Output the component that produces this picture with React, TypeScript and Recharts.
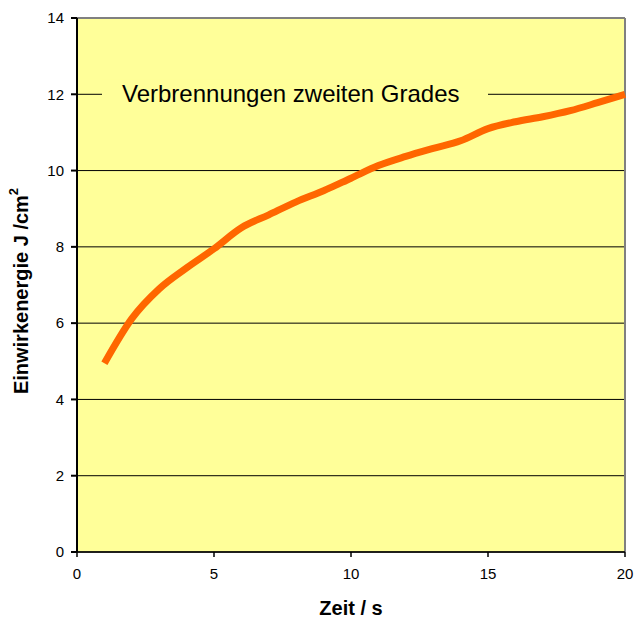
import React from 'react'
import {
  LineChart,
  Line,
  XAxis,
  YAxis,
  CartesianGrid,
  ReferenceLine,
  Label,
} from 'recharts'

const zeit = [1, 2, 3, 4, 5, 6, 7, 8, 9, 10, 11, 12, 13, 14, 15, 16, 17, 18, 19, 20]
const energie = [
  4.95, 6.12, 6.9, 7.45, 7.95, 8.5, 8.84, 9.18, 9.47, 9.8, 10.13, 10.37, 10.58, 10.78, 11.1,
  11.28, 11.41, 11.57, 11.78, 12.0,
]
const yTicks = [0, 2, 4, 6, 8, 10, 12, 14]
const xTicks = [0, 5, 10, 15, 20]
const kurveLabel = 'Verbrennungen zweiten Grades'

const data = zeit.map((t, i) => ({ t, e: energie[i] }))

const FONT = '"Liberation Sans", Arial, sans-serif'

// Beschriftung über der 12er Linie, mit gelbem Hintergrund
const GradLabel = (props: any) => {
  const { viewBox } = props
  const x0 = viewBox.x + 25
  const y0 = viewBox.y
  return (
    <g>
      <rect x={x0} y={y0 - 15} width={386} height={30} fill="#FFFF99" />
      <text
        x={viewBox.x + 45}
        y={y0 + 8}
        fontSize={24}
        fontFamily={FONT}
        fill="#000"
      >
        {kurveLabel}
      </text>
    </g>
  )
}

// y-Achsentitel mit hochgestellter 2
const YTitle = (props: any) => {
  const { viewBox } = props
  const cx = 21
  const cy = viewBox.y + viewBox.height / 2 + 6
  return (
    <text
      x={cx}
      y={cy}
      transform={`rotate(-90, ${cx}, ${cy})`}
      textAnchor="middle"
      dominantBaseline="central"
      fontSize={20}
      fontWeight="bold"
      fontFamily={FONT}
      fill="#000"
    >
      Einwirkenergie J /cm
      <tspan fontSize={13} dy={-8}>
        2
      </tspan>
    </text>
  )
}

const App = () => {
  return (
    <div style={{ position: 'absolute', left: 0, top: 0 }}>
      <LineChart
        width={637}
        height={619}
        data={data}
        margin={{ top: 18, right: 12, left: 17, bottom: 22 }}
      >
        <CartesianGrid
          vertical={false}
          stroke="#000"
          strokeOpacity={1}
          fill="#FFFF99"
          fillOpacity={1}
        />
        <ReferenceLine y={14} stroke="#808080" strokeWidth={2} />
        <ReferenceLine x={20} stroke="#808080" strokeWidth={2} />
        <ReferenceLine y={12} stroke="none" label={<GradLabel />} />
        <XAxis
          dataKey="t"
          type="number"
          domain={[0, 20]}
          ticks={xTicks}
          stroke="#000"
          strokeWidth={1.5}
          tickSize={5}
          tickMargin={11}
          height={45}
          tick={{ fontSize: 15, fontFamily: FONT, fill: '#000' }}
        >
          <Label
            value="Zeit / s"
            position="insideBottom"
            offset={-18}
            style={{ fontSize: 20, fontWeight: 'bold', fontFamily: FONT, fill: '#000' }}
          />
        </XAxis>
        <YAxis
          type="number"
          domain={[0, 14]}
          ticks={yTicks}
          stroke="#000"
          strokeWidth={2}
          tickSize={6}
          tickMargin={7}
          width={60}
          tick={{ fontSize: 15, fontFamily: FONT, fill: '#000' }}
        >
          <Label content={<YTitle />} />
        </YAxis>
        <Line
          type="monotone"
          dataKey="e"
          stroke="#FF6600"
          strokeWidth={7}
          dot={false}
          isAnimationActive={false}
        />
      </LineChart>
    </div>
  )
}

export default App
